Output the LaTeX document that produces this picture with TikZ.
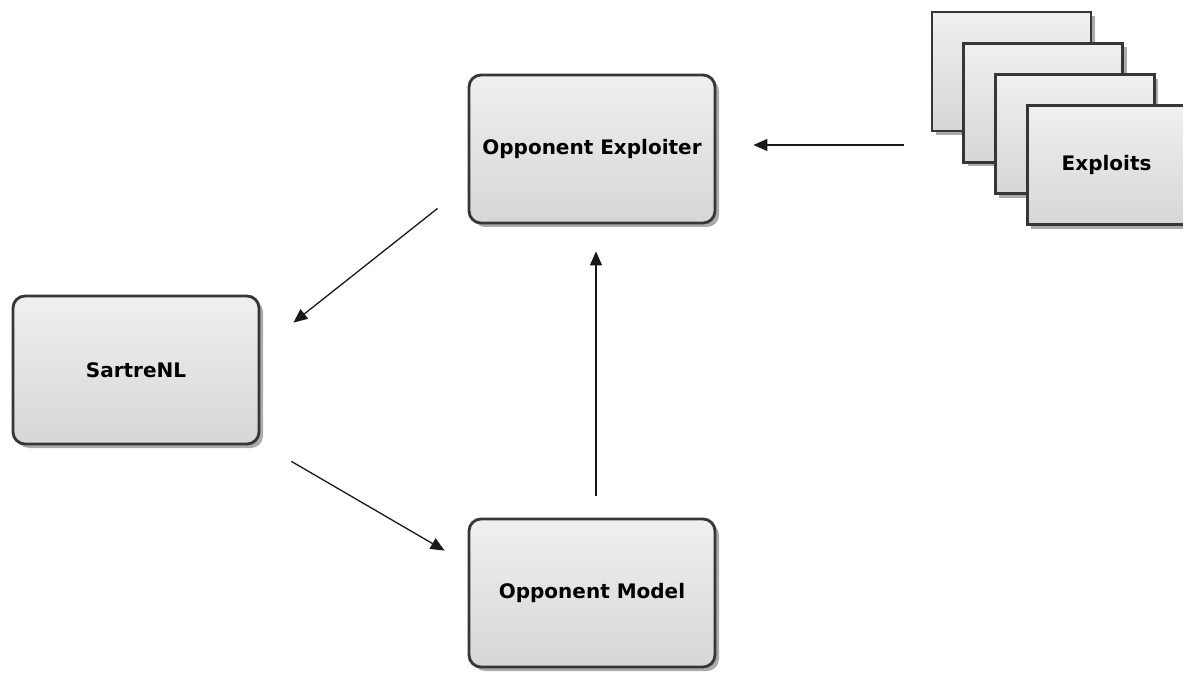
\documentclass[tikz,border=0pt]{standalone}
\usepackage{fontspec}
\setsansfont{DejaVu Sans}
\usepackage{xcolor}
\usetikzlibrary{arrows.meta,positioning,shadows}

\definecolor{boxline}{HTML}{363636}
\definecolor{boxshadow}{HTML}{ABABAB}

\begin{document}
\begin{tikzpicture}[
  x=1pt, y=1pt,
  font=\sffamily\bfseries\fontsize{20}{24}\selectfont,
  % Node styles
  module/.style={rectangle, rounded corners=12pt, draw=boxline, line width=2.8pt,
    top color=gray!12, bottom color=gray!32, minimum width=246pt, minimum height=148pt,
    align=center, drop shadow={shadow xshift=4pt, shadow yshift=-4pt, fill=boxshadow, opacity=1}},
  sheet/.style={rectangle, draw=boxline, line width=2.8pt,
    top color=gray!12, bottom color=gray!32, minimum width=159pt, minimum height=119pt,
    align=center, drop shadow={shadow xshift=4pt, shadow yshift=-4pt, fill=boxshadow, opacity=1}},
  arr/.style={-{Triangle[length=14pt,width=12pt]}, line width=1.3pt, color=black!90}
]

  \useasboundingbox[fill=white] (0,0) rectangle (1183,673);

  % ============================================
  % Modules
  % ============================================
  \node[module] (expl) at (592,524) {Opponent Exploiter};
  \node[module] (sartre) at (136,303) {SartreNL};
  \node[module] (model) at (592,80) {Opponent Model};

  % ============================================
  % Stack of exploits
  % ============================================
  \foreach \i/\txt in {1/{}, 2/{}, 3/{}, 4/{Exploits}} {
    \node[sheet] (ex\i) at ({1011.5+31.7*(\i-1)},{601.5-31.3*(\i-1)}) {\txt};
  }

  % ============================================
  % Edges
  % ============================================
  \draw[arr, shorten <=27pt, shorten >=37pt] ([yshift=4pt]ex1.west |- expl.east) -- ([yshift=4pt]expl.east);
  \draw[arr] ([shift={(-30pt,16pt)}]expl.south west) -- ([shift={(33pt,-28pt)}]sartre.north east);
  \draw[arr] ([shift={(31pt,-16pt)}]sartre.south east) -- ([shift={(-23pt,-33pt)}]model.north west);
  \draw[arr] ([shift={(4pt,22pt)}]model.north) -- ([shift={(4pt,-27pt)}]expl.south);

\end{tikzpicture}
\end{document}
